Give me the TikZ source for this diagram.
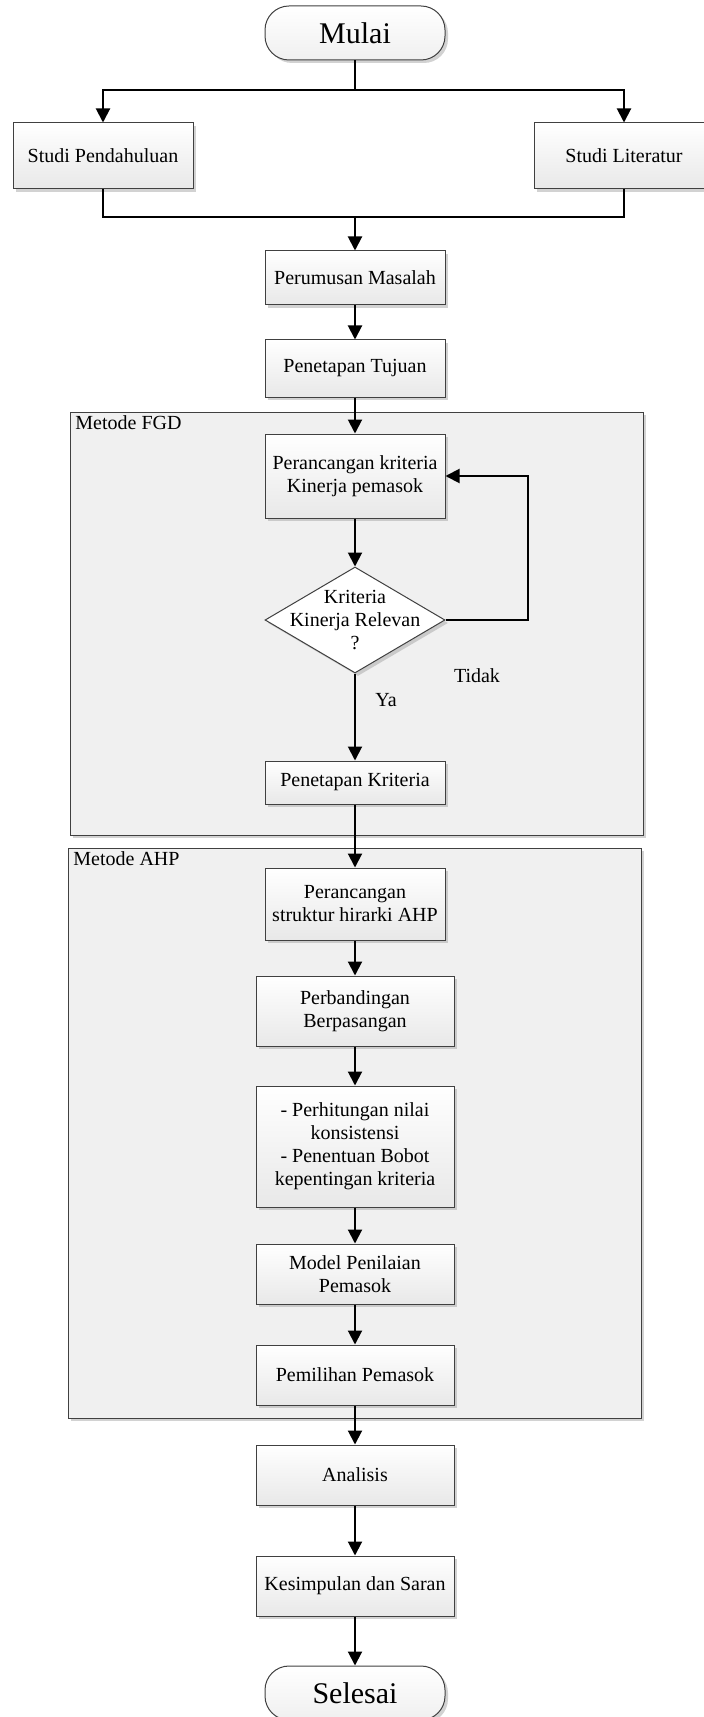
\documentclass[tikz,border=0pt]{standalone}
\usepackage{fontspec}
\setmainfont{Liberation Serif}
\usetikzlibrary{arrows.meta,shapes.geometric,shadows}

\tikzset{
	bayang/.style={drop shadow={shadow xshift=1.5pt, shadow yshift=-1.5pt, fill=black!35}},
	proses/.style={draw=black!75, line width=0.5pt, top color=white, bottom color=black!9, bayang, minimum width=90pt, align=center, inner sep=2pt, font=\fontsize{10}{11.5}\selectfont},
	proseslebar/.style={proses, minimum width=99pt},
	terminal/.style={draw=black!75, line width=0.5pt, rounded corners=12pt, top color=white, bottom color=black!6, bayang, minimum width=90pt, minimum height=27pt, font=\fontsize{15}{18}\selectfont},
	keputusan/.style={diamond, draw=black!75, line width=0.5pt, fill=white, bayang, inner sep=0pt, minimum width=90pt, minimum height=53pt},
	kelompok/.style={draw=black!75, line width=0.5pt, fill=black!6, bayang},
	labelkelompok/.style={anchor=north west, inner sep=1.5pt, font=\fontsize{10}{11.5}\selectfont},
	teks/.style={font=\fontsize{10}{11.5}\selectfont, align=center},
	sambung/.style={line width=1pt},
	alur/.style={line width=1pt, -{Triangle[length=7pt,width=7pt]}}
}

\begin{document}
\begin{tikzpicture}[x=0.5pt,y=-0.5pt]
			%%%%% START %%%%%
			\useasboundingbox (0,0) rectangle (704,1717);
			
			% kotak metode
			\draw[kelompok] (70,412) rectangle (643,835);
			\node[labelkelompok] (lblfgd) at (72,412) {Metode FGD};
			\draw[kelompok] (68,848) rectangle (641,1418);
			\node[labelkelompok] (lblahp) at (70,848) {Metode AHP};
			
			\node[terminal] (mulai) at (355,33) {Mulai};
			\node[proses, minimum height=33pt] (pendahuluan) at (103,156) {Studi Pendahuluan};
			\node[proses, minimum height=33pt] (literatur) at (624,156) {Studi Literatur};
			\node[proses, minimum height=27pt] (rumusan) at (355,278) {Perumusan Masalah};
			\node[proses, minimum height=28.5pt] (tujuan) at (355,368.5) {Penetapan Tujuan};
			
			\node[proses, minimum height=42pt] (rancangkriteria) at (355,476) {Perancangan kriteria\\Kinerja pemasok};
			\node[keputusan] (relevan) at (355,620) {};
			\node[teks] (relevanteks) at (relevan.center) {Kriteria\\Kinerja Relevan\\?};
			\node[proses, minimum height=21.5pt] (tetapkriteria) at (355,782.5) {Penetapan Kriteria};
			\node[teks] (ya) at (386,700) {Ya};
			\node[teks] (tidak) at (477,676) {Tidak};
			
			\node[proses, minimum height=36pt] (hirarki) at (355,904) {Perancangan\\struktur hirarki AHP};
			\node[proseslebar, minimum height=35pt] (banding) at (355,1011) {Perbandingan\\Berpasangan};
			\node[proseslebar, minimum height=60.5pt] (hitung) at (355,1146.5) {- Perhitungan nilai\\konsistensi\\- Penentuan Bobot\\kepentingan kriteria};
			\node[proseslebar, minimum height=30pt] (model) at (355,1274) {Model Penilaian\\Pemasok};
			\node[proseslebar, minimum height=30pt] (pilih) at (355,1375) {Pemilihan Pemasok};
			
			\node[proseslebar, minimum height=30pt] (analisis) at (355,1475) {Analisis};
			\node[proseslebar, minimum height=30pt] (simpulan) at (355,1586) {Kesimpulan dan Saran};
			\node[terminal] (selesai) at (355,1693) {Selesai};
			
			% garis alur
			\coordinate (cabang) at (355,90);
			\coordinate (gabung) at (355,217);
			\coordinate (balik) at (528,620);
			\draw[sambung] (mulai.south) -- (cabang);
			\draw[alur] (cabang) -| (pendahuluan.north);
			\draw[alur] (cabang) -| (literatur.north);
			\draw[sambung] (pendahuluan.south) |- (gabung);
			\draw[sambung] (literatur.south) |- (gabung);
			\draw[alur] (gabung) -- (rumusan.north);
			\draw[alur] (rumusan) -- (tujuan);
			\draw[alur] (tujuan) -- (rancangkriteria);
			\draw[alur] (rancangkriteria) -- (relevan.north);
			\draw[alur] (relevan.east) -- (balik) |- (rancangkriteria.east);
			\draw[alur] (relevan.south) -- (tetapkriteria.north);
			\draw[alur] (tetapkriteria) -- (hirarki);
			\draw[alur] (hirarki) -- (banding);
			\draw[alur] (banding) -- (hitung);
			\draw[alur] (hitung) -- (model);
			\draw[alur] (model) -- (pilih);
			\draw[alur] (pilih) -- (analisis);
			\draw[alur] (analisis) -- (simpulan);
			\draw[alur] (simpulan) -- (selesai);
			
			%%%%% END %%%%%
\end{tikzpicture}
\end{document}
